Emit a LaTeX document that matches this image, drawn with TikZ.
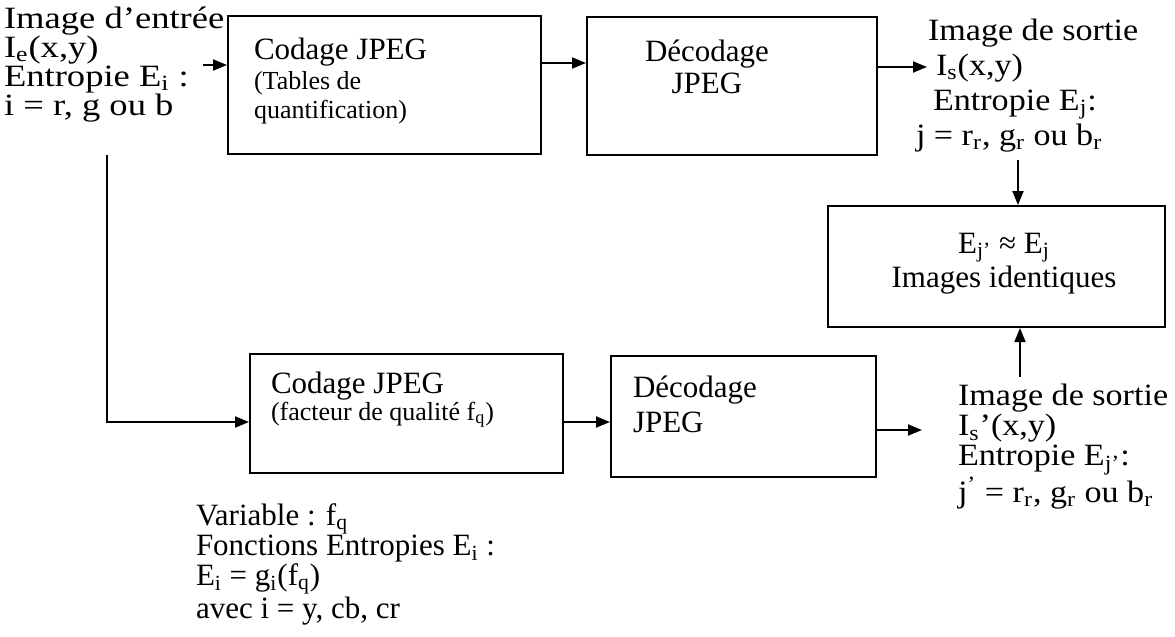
\documentclass[tikz,border=0pt]{standalone}
\usepackage{fontspec}
\setmainfont{Liberation Serif}
\newfontfamily\larga{Liberation Serif}[FakeStretch=1.18]
\newfontfamily\largb{Liberation Serif}[FakeStretch=1.1]
\usepackage{tikz}
\usetikzlibrary{arrows.meta}
\usetikzlibrary{calc}
\usetikzlibrary{positioning}
\newcommand{\ind}[1]{\textsubscript{#1}}
\newcommand{\petit}[1][14.75pt]{\fontsize{13pt}{#1}\selectfont}

\begin{document}
\begin{tikzpicture}[x=0.5pt, y=-0.5pt, line width=1pt,
  bloc/.style={draw, inner sep=0pt},
  txt/.style={inner sep=0pt, anchor=base west, align=left},
  fl/.style={-{Triangle[length=7pt, width=5.5pt]}}]
  \useasboundingbox (0,0) rectangle (1175,637);

  \draw (384.5,85) node[bloc, minimum width=156.5pt, minimum height=69pt] (c1) {};
  \draw (732,86) node[bloc, minimum width=145pt, minimum height=69pt] (d1) {};
  \draw (996.5,266.5) node[bloc, minimum width=168.5pt, minimum height=60.5pt] (cmp) {};
  \draw (406.5,413.5) node[bloc, minimum width=156.5pt, minimum height=59.5pt] (c2) {};
  \draw (743.5,416.5) node[bloc, minimum width=132.5pt, minimum height=60.5pt] (d2) {};

  \draw (253,119) node[txt, font=\fontsize{15.5pt}{14.75pt}\selectfont] (tc1) {Codage JPEG\\\petit (Tables de\\\petit quantification)};
  \draw (707,93) node[txt, anchor=base, align=center, font=\fontsize{15.5pt}{16pt}\selectfont] (td1) {Décodage\\JPEG};
  \draw (1004,287) node[txt, anchor=base, align=center, font=\fontsize{15.5pt}{17pt}\selectfont] (tcmp) {E\ind{j’} ≈ E\ind{j}\\Images identiques};
  \draw (270,420) node[txt, font=\fontsize{15.5pt}{11.5pt}\selectfont] (tc2) {Codage JPEG\\\petit[11.5pt](facteur de qualité f\ind{q})};
  \draw (632,432) node[txt, font=\fontsize{15.5pt}{17.5pt}\selectfont] (td2) {Décodage\\JPEG};

  \draw (3,115) node[txt, font=\larga\fontsize{15.5pt}{14.5pt}\selectfont] (ent) {Image d’entrée\\I\ind{e}(x,y)\\Entropie E\ind{i} :\\i = r, g ou b};
  \draw (927,145) node[txt, font=\largb\fontsize{15.5pt}{17.5pt}\selectfont] (s1) {Image de sortie\\\hspace*{4pt}I\ind{s}(x,y)\\\hspace*{2.5pt}Entropie E\ind{j}:\\\hspace*{-6pt}j = r\ind{r}, g\ind{r} ou b\ind{r}};
  \draw (957,502) node[txt, font=\largb\fontsize{15.5pt}{15pt}\selectfont] (s2) {Image de sortie\\I\ind{s}’(x,y)\\Entropie E\ind{j’}:\\j\textsuperscript{’} = r\ind{r}, g\ind{r} ou b\ind{r}};
  \draw (195,618) node[txt, font=\fontsize{15.5pt}{15pt}\selectfont] (var) {Variable : f\ind{q}\\Fonctions Entropies E\ind{i} :\\E\ind{i} = g\ind{i}(f\ind{q})\\avec i = y, cb, cr};

  \coordinate (e0) at (203,65);
  \coordinate (e1) at (107,155);
  \coordinate (s1a) at (927,67);
  \coordinate (s1b) at (1018,160);
  \coordinate (s2a) at (922,430);
  \coordinate (s2b) at (1020,377);

  \draw[fl] (e0) -- (e0 -| c1.west);
  \draw[fl] ([yshift=11pt]c1.east) -- ([yshift=11pt]c1.east -| d1.west);
  \draw[fl] ([yshift=9.5pt]d1.east) -- (s1a);
  \draw[fl] (s1b) -- (s1b |- cmp.north);
  \draw[fl] (s2b) -- (s2b |- cmp.south);
  \draw[fl] (e1) |- ([yshift=-4.25pt]c2.west);
  \draw[fl] ([yshift=-4.25pt]c2.east) -- ([yshift=-4.25pt]c2.east -| d2.west);
  \draw[fl] ([yshift=-6.75pt]d2.east) -- (s2a);
\end{tikzpicture}
\end{document}
